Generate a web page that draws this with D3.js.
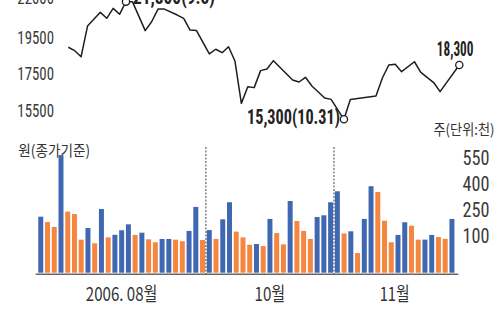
<!DOCTYPE html>
<html><head><meta charset="utf-8">
<script src="https://cdnjs.cloudflare.com/ajax/libs/d3/7.8.5/d3.min.js"></script>
<style>
html,body{margin:0;padding:0;background:#fff;}
svg{display:block;}
text{font-family:"Liberation Sans Narrow","Roboto Condensed","Liberation Sans",sans-serif;}
.kr{font-family:"Noto Sans CJK KR","Noto Sans",sans-serif;}
</style></head>
<body>
<script>
// ---- data ----
const lineDay   = [0,1,2,3,5,6,7,8,9,10,12,13,14,15,17,18,19,20,22,23,24,25,26,27,28,29,30,31,32,35,36,37,38,40,41,43,44,48,49,50,51,52,54,55,57,58,61];
const linePrice = [19280,19090,18760,20450,21210,20880,21430,21100,21800,21800,20200,20690,21390,21390,21060,20880,20230,20200,18910,19170,18980,19310,18520,16180,17100,17050,17990,18080,18540,17470,17360,17620,17140,16480,16400,15300,16390,16590,17580,18300,18340,17930,18480,17890,17330,16830,18300];
const priceTicks = [15500,17500,19500,22000];
const volume = [253,222,194,607,282,268,121,188,100,297,134,149,175,209,148,161,123,106,125,125,121,112,171,309,119,176,125,238,336,167,134,92,96,84,240,159,94,343,228,171,125,251,261,336,399,157,169,44,240,428,395,230,106,148,221,201,121,121,148,136,126,240];
const volDir = "BOOBOOOBOBOBBBOBOOBBOOBBOBOBBOOOBOBOOBOOOBBBBOBOBBOOOBBOOBBOOB";
const volTicks = [100,250,400,550];
const monthLabels = ["2006. 08월","10월","11월"];
const monthStart = [0,25,44];
const notes = [
  {day:9,  text:"21,800(9.5)"},
  {day:43, text:"15,300(10.31)"},
  {day:61, text:"18,300"}
];

const W=502,H=325;
const svg=d3.select("body").append("svg").attr("width",W).attr("height",H);

// ---- scales ----
const xLine=d3.scaleLinear().domain([0,61]).range([68.3,459.3]);
const yPrice=d3.scaleLinear().domain([15300,18300]).range([119.3,65]);
const xBar=d3.scaleBand().domain(d3.range(volume.length)).range([37.4,455.3]).paddingInner(0.26).paddingOuter(0.13);
const yVol=d3.scaleLinear().domain([100,550]).range([243.3,165]);
const baseY=272.7;
const colBlue="#4068b2", colOrange="#f5863f";

// ---- price axis labels ----
svg.append("g").selectAll("text").data(priceTicks).join("text")
  .attr("x",54).attr("y",d=>Math.max(yPrice(d)+1,3.5))
  .attr("text-anchor","end").attr("font-size",18.5).attr("fill","#3a3a3a")
  .attr("textLength",36.7).attr("lengthAdjust","spacingAndGlyphs")
  .text(d=>d);

// ---- price line ----
const pts=lineDay.map((d,i)=>[xLine(d),yPrice(linePrice[i])]);
svg.append("path").attr("d",d3.line()(pts)).attr("fill","none")
  .attr("stroke","#1e1e1e").attr("stroke-width",1.5).attr("stroke-linejoin","round");

// circles + notes
notes.forEach(n=>{
  const i=lineDay.indexOf(n.day);
  const cx=xLine(n.day), cy=yPrice(linePrice[i]);
  svg.append("circle").attr("cx",cx).attr("cy",cy).attr("r",3.6)
    .attr("fill","#fff").attr("stroke","#1e1e1e").attr("stroke-width",1.3);
});
const noteStyle=[
  {x:133,y:3.5,anchor:"start",len:82,fs:20},
  {x:340,y:124,anchor:"end",len:93,fs:20.5},
  {x:473.5,y:56,anchor:"end",len:36.7,fs:20}
];
notes.forEach((n,k)=>{
  const s=noteStyle[k];
  svg.append("text").attr("x",s.x).attr("y",s.y).attr("text-anchor",s.anchor)
    .attr("font-size",s.fs).attr("font-weight","bold").attr("fill","#222")
    .attr("textLength",s.len).attr("lengthAdjust","spacingAndGlyphs")
    .text(n.text);
});

// ---- unit labels ----
svg.append("text").attr("class","kr").attr("x",18.3).attr("y",155.5)
  .attr("font-size",15).attr("fill","#333")
  .attr("textLength",71.7).attr("lengthAdjust","spacingAndGlyphs").text("원(종가기준)");
svg.append("text").attr("class","kr").attr("x",433.5).attr("y",135)
  .attr("font-size",14.5).attr("fill","#333")
  .attr("textLength",61).attr("lengthAdjust","spacingAndGlyphs").text("주(단위:천)");

// ---- volume bars ----
svg.append("g").selectAll("rect").data(volume).join("rect")
  .attr("x",(d,i)=>xBar(i)).attr("width",xBar.bandwidth())
  .attr("y",d=>yVol(d)).attr("height",d=>baseY-yVol(d))
  .attr("fill",(d,i)=>volDir[i]==="B"?colBlue:colOrange);

// volume tick labels
svg.append("g").selectAll("text").data(volTicks).join("text")
  .attr("x",462.5).attr("y",d=>yVol(d))
  .attr("font-size",21).attr("fill","#3a3a3a")
  .attr("textLength",27).attr("lengthAdjust","spacingAndGlyphs")
  .text(d=>d);

// month separators
const sepX=i=>xBar(i)-xBar.step()*xBar.paddingInner()/2;
monthStart.slice(1).forEach(s=>{
  svg.append("line").attr("x1",sepX(s)).attr("x2",sepX(s)).attr("y1",147).attr("y2",275)
    .attr("stroke","#444").attr("stroke-width",1).attr("stroke-dasharray","2,1.5");
});

// baseline axis
svg.append("line").attr("x1",35.7).attr("x2",458.3).attr("y1",274.3).attr("y2",274.3)
  .attr("stroke","#666").attr("stroke-width",1.6);

// month labels
const ends=monthStart.slice(1).concat([volume.length]);
const mLen=[71.7,30.7,30];
monthLabels.forEach((m,k)=>{
  const c=(xBar(monthStart[k])+xBar(ends[k]-1)+xBar.bandwidth())/2;
  svg.append("text").attr("class","kr").attr("x",c).attr("y",300.5)
    .attr("text-anchor","middle").attr("font-size",19).attr("fill","#333")
    .attr("textLength",mLen[k]).attr("lengthAdjust","spacingAndGlyphs").text(m);
});
</script>
</body></html>
